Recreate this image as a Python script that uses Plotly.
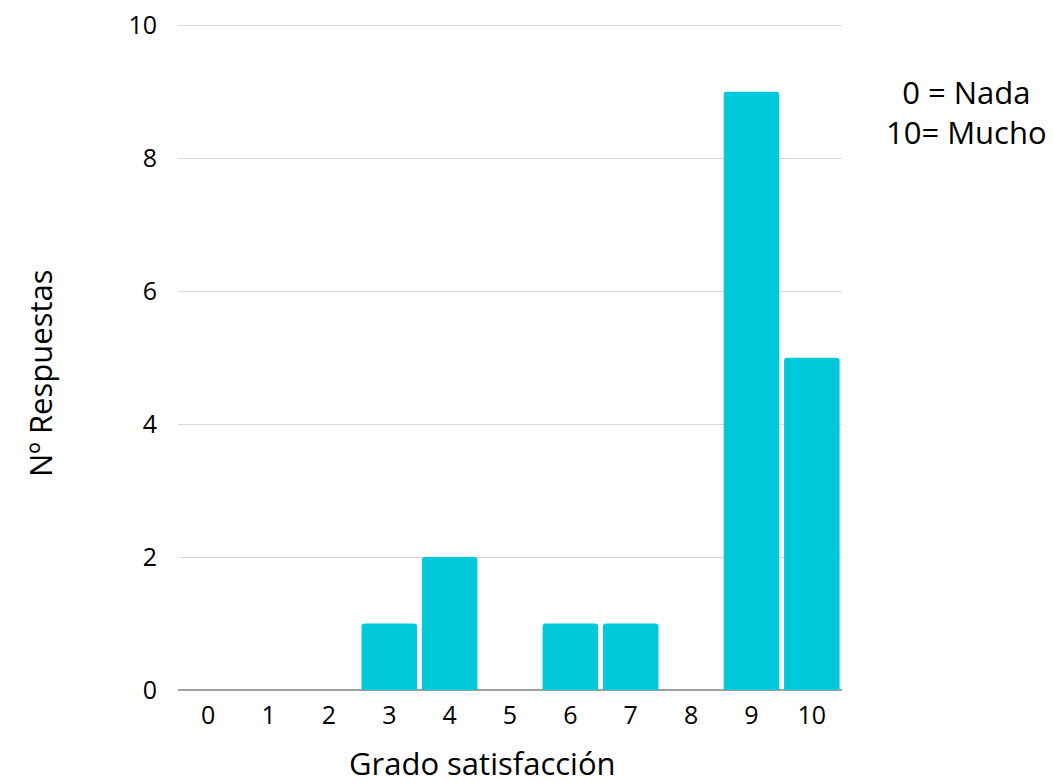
import plotly.graph_objects as go

categories = ["0", "1", "2", "3", "4", "5", "6", "7", "8", "9", "10"]
values = [0, 0, 0, 1, 2, 0, 1, 1, 0, 9, 5]
y_ticks = [0, 2, 4, 6, 8, 10]

FONT = "Open Sans"

fig = go.Figure(go.Bar(
    x=categories, y=values,
    marker=dict(color="#00C9DB", line=dict(width=0)),
    width=0.92,
))

fig.update_layout(
    width=1053, height=783,
    margin=dict(l=178, r=211, t=24, b=93),
    plot_bgcolor="white", paper_bgcolor="white",
    font=dict(family=FONT, size=25, color="#000000"),
    barcornerradius=3,
    showlegend=False,
    xaxis=dict(
        type="category", automargin=False,
        showgrid=False, showline=False, ticks="",
        tickfont=dict(size=25), ticklabelstandoff=8,
    ),
    yaxis=dict(
        range=[0, 10.02], tickvals=y_ticks, automargin=False,
        showgrid=True, gridcolor="#d9d9d9", gridwidth=1,
        zeroline=True, zerolinecolor="#a0a0a0", zerolinewidth=1.5,
        ticks="", tickfont=dict(size=25), ticklabelstandoff=20,
        ticklabeloverflow="allow",
    ),
    annotations=[
        dict(
            text="0 = Nada<br>10= Mucho", xref="paper", yref="paper",
            x=1.187, y=0.868, xanchor="center", yanchor="middle",
            showarrow=False, align="center", font=dict(size=31),
        ),
        dict(
            text="Grado satisfacción", xref="paper", yref="paper",
            x=0.4593, y=-0.1096, xanchor="center", yanchor="middle",
            showarrow=False, font=dict(size=31),
        ),
        dict(
            text="Nº Respuestas", xref="paper", yref="paper",
            x=-0.2078, y=0.476, xanchor="center", yanchor="middle",
            showarrow=False, textangle=-90, font=dict(size=31),
        ),
    ],
)

fig.write_html(
    "out.html",
    config={"displayModeBar": False},
    post_script="document.body.style.margin='0';document.body.style.overflow='hidden';",
)
